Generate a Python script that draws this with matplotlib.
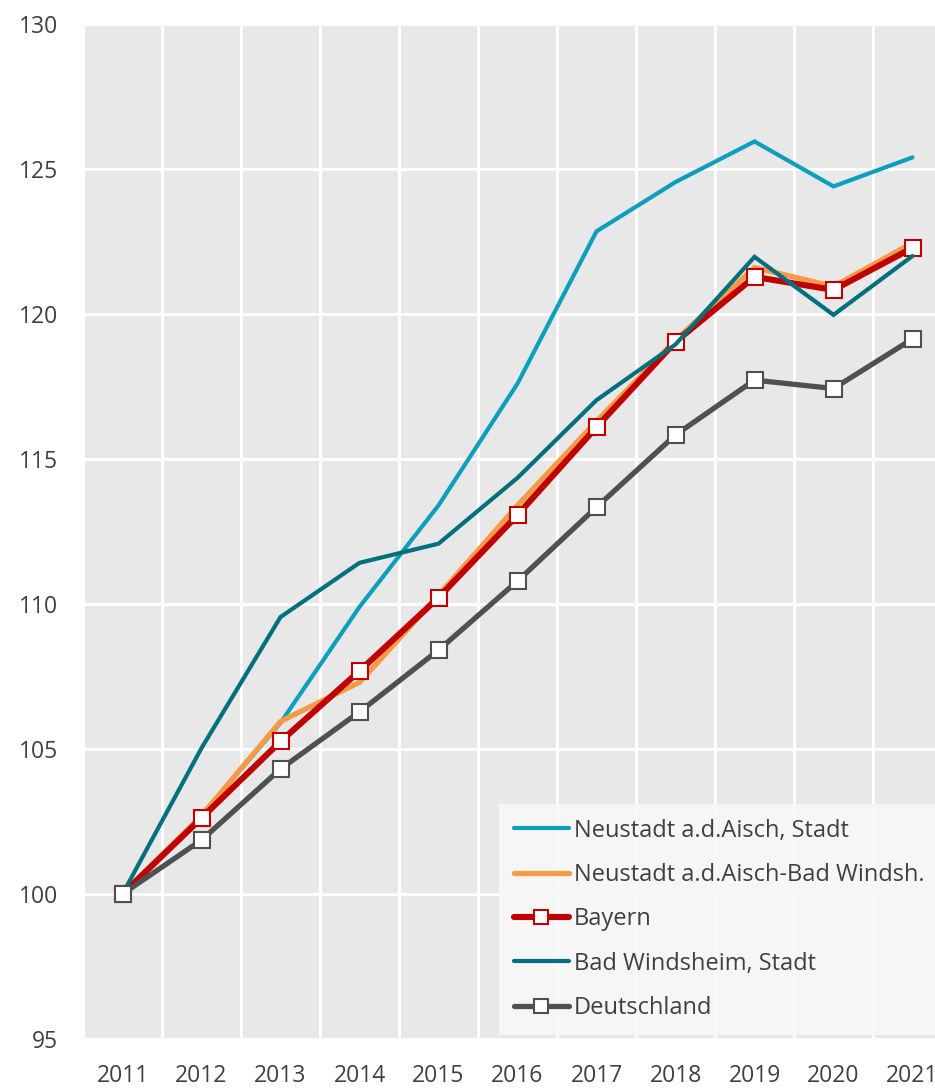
import numpy as np
import matplotlib.pyplot as plt
from matplotlib.ticker import MultipleLocator

years = ['2011', '2012', '2013', '2014', '2015', '2016', '2017', '2018', '2019', '2020', '2021']

neustadt_stadt = [100.0, 102.7, 105.9, 109.9, 113.4, 117.6, 122.85, 124.55, 125.95, 124.4, 125.4]
landkreis = [100.0, 102.7, 105.95, 107.3, 110.3, 113.4, 116.3, 119.1, 121.6, 120.95, 122.45]
bayern = [100.0, 102.62, 105.26, 107.69, 110.22, 113.07, 116.1, 119.04, 121.28, 120.83, 122.28]
bad_windsheim = [100.0, 105.03, 109.55, 111.42, 112.08, 114.35, 117.03, 118.95, 121.97, 119.97, 122.0]
deutschland = [100.0, 101.86, 104.31, 106.28, 108.41, 110.79, 113.34, 115.83, 117.72, 117.43, 119.14]

labels = ['Neustadt a.d.Aisch, Stadt', 'Neustadt a.d.Aisch-Bad Windsh.',
          'Bayern', 'Bad Windsheim, Stadt', 'Deutschland']

plt.rcParams['font.family'] = ['Open Sans', 'DejaVu Sans']
txt_col = '#404040'

W, H = 935, 1088
fig = plt.figure(figsize=(W / 100, H / 100), dpi=100)
# plot area runs past the right edge of the picture, as in the original
ax = fig.add_axes([83 / W, (H - 1039) / H, 869 / W, (1039 - 24) / H])
ax.set_facecolor('#e8e8e8')
for s in ax.spines.values():
    s.set_visible(False)

x = np.arange(len(years))
style = dict(solid_joinstyle='miter', solid_capstyle='round')

ax.plot(x, neustadt_stadt, color='#0b9fbe', lw=3.0, label=labels[0], zorder=3, **style)
ax.plot(x, landkreis, color='#f79a46', lw=3.8, label=labels[1], zorder=4, **style)
ax.plot(x, bayern, color='#c00000', lw=4.4, label=labels[2], zorder=5,
        marker='s', ms=12, mfc='white', mec='#c00000', mew=1.5, **style)
ax.plot(x, bad_windsheim, color='#00707f', lw=3.0, label=labels[3], zorder=6, **style)
ax.plot(x, deutschland, color='#505050', lw=3.8, label=labels[4], zorder=7,
        marker='s', ms=12, mfc='white', mec='#505050', mew=1.5, **style)

ax.set_xlim(-0.5, len(years) - 0.5)
ax.set_ylim(95, 130)
ax.yaxis.set_major_locator(MultipleLocator(5))
ax.set_xticks(x)
ax.set_xticklabels(years)
ax.set_xticks(np.arange(-0.5, len(years)), minor=True)
ax.grid(False)
ax.grid(True, which='minor', axis='x', color='white', lw=2.2)
ax.grid(True, which='major', axis='y', color='white', lw=2.2)
ax.set_axisbelow(True)
ax.tick_params(axis='both', which='both', length=0, labelsize=16.5, colors=txt_col)
ax.tick_params(axis='y', pad=18)
ax.tick_params(axis='x', pad=18)

leg = ax.legend(loc='upper left', bbox_to_anchor=(499 / W, 1 - 804 / H),
                bbox_transform=fig.transFigure, fontsize=17, frameon=True,
                fancybox=False, handlelength=2.35, handletextpad=0.2,
                labelspacing=0.86, borderpad=0.62, borderaxespad=0,
                markerscale=0.8)
leg.get_frame().set_facecolor('#f8f8f8')
leg.get_frame().set_edgecolor('none')
leg.get_frame().set_alpha(0.92)
for t in leg.get_texts():
    t.set_color(txt_col)
leg.set_zorder(10)

fig.savefig('out.png', dpi=100)
